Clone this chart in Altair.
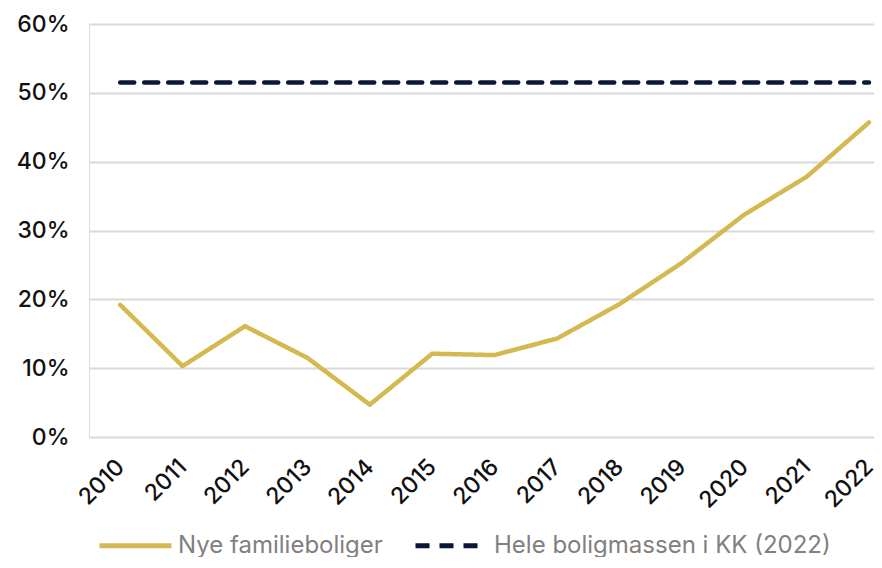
import altair as alt
import pandas as pd

years = list(range(2010, 2023))
nye = [19.2, 10.3, 16.1, 11.5, 4.7, 12.1, 11.9, 14.3, 19.3, 25.3, 32.3, 37.8, 45.7]
hele = [51.5] * 13
series_names = ["Nye familieboliger", "Hele boligmassen i KK (2022)"]
colors = ["#d4b950", "#0b1736"]

rows = []
for y, v in zip(years, nye):
    rows.append({"year": y, "value": v / 100, "series": series_names[0]})
for y, v in zip(years, hele):
    rows.append({"year": y, "value": v / 100, "series": series_names[1]})
df = pd.DataFrame(rows)

FONT = "Inter"

chart = alt.Chart(df).mark_line(strokeWidth=4.5, strokeCap="round", strokeJoin="round").encode(
    x=alt.X("year:Q", scale=alt.Scale(domain=[2009.5, 2022.08], nice=False, zero=False),
            axis=alt.Axis(values=years, format="d", labelAngle=-45, labelAlign="right",
                          labelBaseline="middle", labelPadding=26, grid=False, ticks=False,
                          domain=False, labelFontSize=23, labelColor="#111111",
                          labelFontWeight=500, labelFont=FONT, title=None)),
    y=alt.Y("value:Q", scale=alt.Scale(domain=[0, 0.6], nice=False),
            axis=alt.Axis(values=[0, 0.1, 0.2, 0.3, 0.4, 0.5, 0.6], format=".0%",
                          grid=True, gridColor="#d9d9d9", gridWidth=2, ticks=False,
                          domain=False, labelFontSize=23, labelColor="#111111",
                          labelFontWeight=500, labelFont=FONT, labelPadding=20, title=None)),
    color=alt.Color("series:N", scale=alt.Scale(domain=series_names, range=colors),
                    legend=alt.Legend(title=None, orient="none", direction="horizontal",
                                      legendX=8, legendY=483, symbolType="stroke",
                                      symbolSize=5184, symbolStrokeWidth=5,
                                      labelFontSize=24, labelColor="#808080", labelLimit=0,
                                      labelFont=FONT, columnPadding=22, labelOffset=4)),
    strokeDash=alt.StrokeDash("series:N",
                              scale=alt.Scale(domain=series_names, range=[[1, 0], [14, 10]]),
                              legend=None),
    strokeWidth=alt.value(4.5),
).properties(
    width=785, height=413,
    autosize=alt.AutoSizeParams(type="none"),
    padding={"left": 81, "top": 16, "right": 0, "bottom": 120},
).configure_view(stroke=None).configure_legend(
    symbolStrokeWidth=5
).configure(background="white")

chart.save("out.html", embed_options={"renderer": "svg", "actions": False})
